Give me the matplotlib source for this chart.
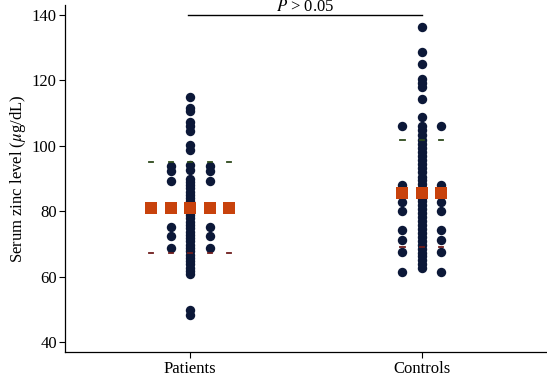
import numpy as np
import matplotlib.pyplot as plt

plt.rcParams['font.family'] = 'Liberation Serif'
plt.rcParams['mathtext.fontset'] = 'stix'

groups = ['Patients', 'Controls']

# dots per column (centre column, inner side columns, outer side columns)
patients_center = [114.9, 111.5, 110.5, 107.4, 105.9, 104.4, 100.3, 98.8, 94.2, 92.6,
                   90.0, 89.0, 88.0, 87.0, 86.0, 85.0, 84.0, 83.0, 82.0, 81.0,
                   78.8, 77.8, 76.8, 75.8, 74.8, 73.8, 72.8, 71.8, 70.8, 69.8,
                   68.8, 67.8, 66.8, 65.8, 64.8, 63.8, 62.8, 61.8, 61.0, 49.9, 48.3]
patients_side = [93.7, 92.2, 89.1, 81.0, 75.3, 72.3, 68.7]
patients_outer = [81.0]

controls_center = [136.4, 128.5, 125.0, 120.4, 119.1, 117.9, 114.2, 108.9, 106.1, 104.9,
                   103.3, 101.8, 100.5, 99.2, 98.0, 96.8, 95.6, 94.4, 93.2, 92.0,
                   90.6, 89.4, 88.2, 87.0, 85.5, 84.2, 83.0, 81.8, 80.6, 79.4,
                   78.2, 77.0, 75.8, 74.6, 73.4, 72.2, 71.0, 69.8, 68.6, 67.4,
                   66.2, 65.0, 63.8, 62.6]
controls_side = [106.1, 88.1, 85.5, 82.9, 80.2, 74.3, 71.3, 67.6, 61.6]

means = [81.1, 85.5]
sd_upper = [94.9, 101.8]
sd_lower = [67.4, 69.2]

dot_col = '#0c1838'
mean_col = '#c8420c'
up_col = '#2e4a1c'
low_col = '#6e1c1c'
step = 0.084

fig = plt.figure(figsize=(5.47, 3.77), dpi=100)
ax = fig.add_axes([0.119, 0.066, 0.881, 0.921])

cols = [
    (0, patients_center, [0]),
    (0, patients_side, [-1, 1]),
    (0, patients_outer, [-2, 2]),
    (1, controls_center, [0]),
    (1, controls_side, [-1, 1]),
]
for g, vals, offs in cols:
    for o in offs:
        ax.scatter(np.full(len(vals), g + o * step), vals, s=46, color=dot_col,
                   linewidths=0, zorder=3)

n_cols = [5, 3]
for g in range(2):
    k = n_cols[g] // 2
    xs = g + np.arange(-k, k + 1) * step
    for x in xs:
        ax.plot([x - 0.009, x + 0.009], [sd_upper[g]] * 2, color=up_col, lw=1.3, zorder=4)
        ax.plot([x - 0.009, x + 0.009], [sd_lower[g]] * 2, color=low_col, lw=1.3, zorder=4)
    ax.scatter(xs, [means[g]] * len(xs), marker='s', s=72, color=mean_col,
               linewidths=0, zorder=5)

# significance bracket
ax.plot([-0.01, 1.0], [139.8, 139.8], color='black', lw=1.0, clip_on=False)
ax.text(0.495, 141.0, '$P$ > 0.05', ha='center', va='baseline', fontsize=12)

ax.set_xlim(-0.54, 1.54)
ax.set_ylim(37, 143)
ax.set_xticks([0, 1])
ax.set_xticklabels(groups, fontsize=12)
ax.set_yticks([40, 60, 80, 100, 120, 140])
ax.tick_params(axis='y', labelsize=12, length=4, width=0.8, direction='out', pad=2)
ax.tick_params(axis='x', length=4, width=0.8, direction='out', pad=2.5)
ax.set_ylabel('Serum zinc level ($\\mu$g/dL)', fontsize=12, labelpad=3)
for s in ['top', 'right']:
    ax.spines[s].set_visible(False)
for s in ['left', 'bottom']:
    ax.spines[s].set_linewidth(0.9)

fig.savefig('out.png', dpi=100)
